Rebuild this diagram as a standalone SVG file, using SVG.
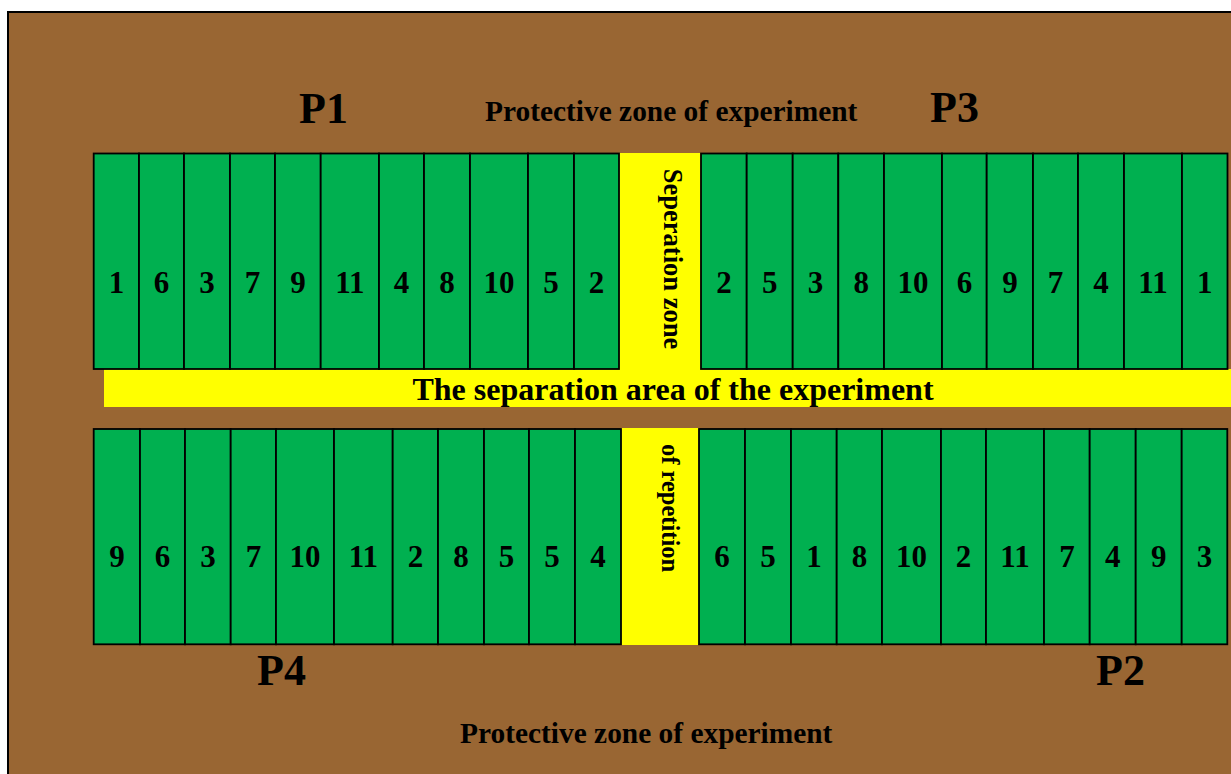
<svg xmlns="http://www.w3.org/2000/svg" width="1231" height="774" viewBox="0 0 1231 774">
  <style>
    .field { fill: #996633; stroke: #000; stroke-width: 2; }
    .cell { fill: #00B050; stroke: #000; stroke-width: 1.8; }
    .sep { fill: #FFFF00; stroke: none; }
    text { font-family: "Liberation Serif", "Times New Roman", serif; font-weight: bold; fill: #000; }
    .num { font-size: 31px; text-anchor: middle; }
    .plot { font-size: 44px; }
    .zone { font-size: 29.4px; }
    .band { font-size: 32px; text-anchor: middle; }
    .vert { text-anchor: middle; }
  </style>

  <!-- experimental field background -->
  <rect class="field" x="8" y="12" width="1240" height="780"/>

  <!-- separation strips -->
  <g id="separation-area">
    <rect class="sep" x="104" y="369" width="1130" height="38"/>
    <text class="band" x="673" y="399.5">The separation area of the experiment</text>
  </g>
  <g id="separation-zone-top">
    <rect class="sep" x="619" y="153" width="82" height="216"/>
    <text class="vert" font-size="26.5" transform="translate(663.5,259) rotate(90)">Seperation zone</text>
  </g>
  <g id="separation-zone-bottom">
    <rect class="sep" x="621" y="428" width="78" height="217"/>
    <text class="vert" font-size="24.5" transform="translate(662,508) rotate(90)">of repetition</text>
  </g>

  <!-- replicate P1 (top left) -->
  <g id="p1">
    <g id="p1-c1"><rect class="cell" x="93.7" y="153.5" width="45.3" height="215.5"/><text class="num" x="116.4" y="292.5">1</text></g>
    <g id="p1-c2"><rect class="cell" x="139" y="153.5" width="45" height="215.5"/><text class="num" x="161.5" y="292.5">6</text></g>
    <g id="p1-c3"><rect class="cell" x="184" y="153.5" width="46" height="215.5"/><text class="num" x="207" y="292.5">3</text></g>
    <g id="p1-c4"><rect class="cell" x="230" y="153.5" width="45" height="215.5"/><text class="num" x="252.5" y="292.5">7</text></g>
    <g id="p1-c5"><rect class="cell" x="275" y="153.5" width="45.7" height="215.5"/><text class="num" x="297.9" y="292.5">9</text></g>
    <g id="p1-c6"><rect class="cell" x="320.7" y="153.5" width="58.3" height="215.5"/><text class="num" x="349.9" y="292.5">11</text></g>
    <g id="p1-c7"><rect class="cell" x="379" y="153.5" width="45" height="215.5"/><text class="num" x="401.5" y="292.5">4</text></g>
    <g id="p1-c8"><rect class="cell" x="424" y="153.5" width="46" height="215.5"/><text class="num" x="447" y="292.5">8</text></g>
    <g id="p1-c9"><rect class="cell" x="470" y="153.5" width="58" height="215.5"/><text class="num" x="499" y="292.5">10</text></g>
    <g id="p1-c10"><rect class="cell" x="528" y="153.5" width="46" height="215.5"/><text class="num" x="551" y="292.5">5</text></g>
    <g id="p1-c11"><rect class="cell" x="574" y="153.5" width="45" height="215.5"/><text class="num" x="596.5" y="292.5">2</text></g>
  </g>

  <!-- replicate P3 (top right) -->
  <g id="p3">
    <g id="p3-c1"><rect class="cell" x="701" y="153.5" width="45.7" height="215.5"/><text class="num" x="723.9" y="292.5">2</text></g>
    <g id="p3-c2"><rect class="cell" x="746.7" y="153.5" width="46" height="215.5"/><text class="num" x="769.7" y="292.5">5</text></g>
    <g id="p3-c3"><rect class="cell" x="792.7" y="153.5" width="45.6" height="215.5"/><text class="num" x="815.5" y="292.5">3</text></g>
    <g id="p3-c4"><rect class="cell" x="838.3" y="153.5" width="45.7" height="215.5"/><text class="num" x="861.2" y="292.5">8</text></g>
    <g id="p3-c5"><rect class="cell" x="884" y="153.5" width="58" height="215.5"/><text class="num" x="913" y="292.5">10</text></g>
    <g id="p3-c6"><rect class="cell" x="942" y="153.5" width="44.7" height="215.5"/><text class="num" x="964.4" y="292.5">6</text></g>
    <g id="p3-c7"><rect class="cell" x="986.7" y="153.5" width="46.3" height="215.5"/><text class="num" x="1009.9" y="292.5">9</text></g>
    <g id="p3-c8"><rect class="cell" x="1033" y="153.5" width="45" height="215.5"/><text class="num" x="1055.5" y="292.5">7</text></g>
    <g id="p3-c9"><rect class="cell" x="1078" y="153.5" width="46" height="215.5"/><text class="num" x="1101" y="292.5">4</text></g>
    <g id="p3-c10"><rect class="cell" x="1124" y="153.5" width="58" height="215.5"/><text class="num" x="1153" y="292.5">11</text></g>
    <g id="p3-c11"><rect class="cell" x="1182" y="153.5" width="45.5" height="215.5"/><text class="num" x="1204.8" y="292.5">1</text></g>
  </g>

  <!-- replicate P4 (bottom left) -->
  <g id="p4">
    <g id="p4-c1"><rect class="cell" x="93.7" y="429" width="46.3" height="215.3"/><text class="num" x="116.9" y="567">9</text></g>
    <g id="p4-c2"><rect class="cell" x="140" y="429" width="45" height="215.3"/><text class="num" x="162.5" y="567">6</text></g>
    <g id="p4-c3"><rect class="cell" x="185" y="429" width="45.7" height="215.3"/><text class="num" x="207.9" y="567">3</text></g>
    <g id="p4-c4"><rect class="cell" x="230.7" y="429" width="45.3" height="215.3"/><text class="num" x="253.4" y="567">7</text></g>
    <g id="p4-c5"><rect class="cell" x="276" y="429" width="58" height="215.3"/><text class="num" x="305" y="567">10</text></g>
    <g id="p4-c6"><rect class="cell" x="334" y="429" width="58.7" height="215.3"/><text class="num" x="363.4" y="567">11</text></g>
    <g id="p4-c7"><rect class="cell" x="392.7" y="429" width="45.3" height="215.3"/><text class="num" x="415.4" y="567">2</text></g>
    <g id="p4-c8"><rect class="cell" x="438" y="429" width="46" height="215.3"/><text class="num" x="461" y="567">8</text></g>
    <g id="p4-c9"><rect class="cell" x="484" y="429" width="45" height="215.3"/><text class="num" x="506.5" y="567">5</text></g>
    <g id="p4-c10"><rect class="cell" x="529" y="429" width="46" height="215.3"/><text class="num" x="552" y="567">5</text></g>
    <g id="p4-c11"><rect class="cell" x="575" y="429" width="46" height="215.3"/><text class="num" x="598" y="567">4</text></g>
  </g>

  <!-- replicate P2 (bottom right) -->
  <g id="p2">
    <g id="p2-c1"><rect class="cell" x="699" y="429" width="46" height="215.3"/><text class="num" x="722" y="567">6</text></g>
    <g id="p2-c2"><rect class="cell" x="745" y="429" width="46" height="215.3"/><text class="num" x="768" y="567">5</text></g>
    <g id="p2-c3"><rect class="cell" x="791" y="429" width="45.7" height="215.3"/><text class="num" x="813.9" y="567">1</text></g>
    <g id="p2-c4"><rect class="cell" x="836.7" y="429" width="45.3" height="215.3"/><text class="num" x="859.4" y="567">8</text></g>
    <g id="p2-c5"><rect class="cell" x="882" y="429" width="59" height="215.3"/><text class="num" x="911.5" y="567">10</text></g>
    <g id="p2-c6"><rect class="cell" x="941" y="429" width="45" height="215.3"/><text class="num" x="963.5" y="567">2</text></g>
    <g id="p2-c7"><rect class="cell" x="986" y="429" width="58" height="215.3"/><text class="num" x="1015" y="567">11</text></g>
    <g id="p2-c8"><rect class="cell" x="1044" y="429" width="45.7" height="215.3"/><text class="num" x="1066.9" y="567">7</text></g>
    <g id="p2-c9"><rect class="cell" x="1089.7" y="429" width="46" height="215.3"/><text class="num" x="1112.7" y="567">4</text></g>
    <g id="p2-c10"><rect class="cell" x="1135.7" y="429" width="46" height="215.3"/><text class="num" x="1158.7" y="567">9</text></g>
    <g id="p2-c11"><rect class="cell" x="1181.7" y="429" width="45.6" height="215.3"/><text class="num" x="1204.5" y="567">3</text></g>
  </g>

  <!-- replicate and zone labels -->
  <g id="labels">
    <text class="plot" x="299" y="122.5">P1</text>
    <text class="plot" x="930" y="121.5">P3</text>
    <text class="plot" x="257" y="685">P4</text>
    <text class="plot" x="1096" y="685">P2</text>
    <text class="zone" x="485" y="121">Protective zone of experiment</text>
    <text class="zone" x="460" y="743">Protective zone of experiment</text>
  </g>
</svg>
